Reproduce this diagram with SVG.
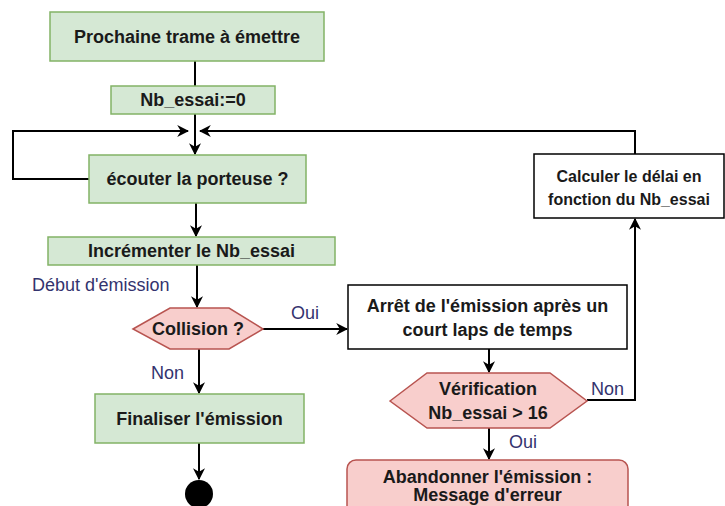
<svg xmlns="http://www.w3.org/2000/svg" width="725" height="506" viewBox="0 0 725 506">
<style>
.g{fill:#d5e8d4;stroke:#82b366;stroke-width:1.5}
.r{fill:#f8cecc;stroke:#b85450;stroke-width:1.5}
.w{fill:#ffffff;stroke:#000000;stroke-width:1.5}
.t{font-family:"Liberation Sans",Arial,sans-serif;font-weight:bold;font-size:18px;fill:#1a1a1a;text-anchor:middle;dominant-baseline:central}
.s{font-size:16px}
.l{font-family:"Liberation Sans",Arial,sans-serif;font-size:18px;fill:#33336e}
.c{fill:none;stroke:#000000;stroke-width:2}
</style>
<defs>
<marker id="b" viewBox="0 0 10 10" refX="9" refY="5" markerWidth="12" markerHeight="12" markerUnits="userSpaceOnUse" orient="auto">
<path d="M0,0 L10,5 L0,10 L3,5 Z" fill="#000"/>
</marker>
</defs>
<g id="connectors">
<path class="c" d="M195,61 V86"/>
<path class="c" d="M195,114 V154" marker-end="url(#b)"/>
<path class="c" d="M89,179 H13 V131 H188" marker-end="url(#b)"/>
<path class="c" d="M635,154 V131 H200" marker-end="url(#b)"/>
<path class="c" d="M196,203 V236" marker-end="url(#b)"/>
<path class="c" d="M197,265 V307" marker-end="url(#b)"/>
<path class="c" d="M263,329 H347" marker-end="url(#b)"/>
<path class="c" d="M199,349 V393" marker-end="url(#b)"/>
<path class="c" d="M199,443 V479" marker-end="url(#b)"/>
<path class="c" d="M489,349 V372" marker-end="url(#b)"/>
<path class="c" d="M587,400 H635 V219" marker-end="url(#b)"/>
<path class="c" d="M489,428 V459" marker-end="url(#b)"/>
</g>
<g id="n1"><rect class="g" x="50" y="12" width="274" height="49"/><text class="t" x="187" y="36.5">Prochaine trame à émettre</text></g>
<g id="n2"><rect class="g" x="111" y="86" width="164" height="28"/><text class="t" x="193" y="100">Nb_essai:=0</text></g>
<g id="n3"><rect class="g" x="89" y="155" width="217" height="48"/><text class="t" x="197.5" y="179">écouter la porteuse ?</text></g>
<g id="n4"><rect class="g" x="48" y="237" width="287" height="28"/><text class="t" x="191.5" y="251">Incrémenter le Nb_essai</text></g>
<g id="n5"><polygon class="r" points="133,329 170,308 229,308 263,329 229,349 170,349"/><text class="t" x="198" y="328.5">Collision ?</text></g>
<g id="n6"><rect class="g" x="95" y="394" width="209" height="49"/><text class="t" x="199.5" y="418.5">Finaliser l'émission</text></g>
<g id="n7"><circle cx="199" cy="494" r="14" fill="#000"/></g>
<g id="n8"><rect class="w" x="348" y="285" width="279" height="64"/><text class="t" x="487.5" y="306">Arrêt de l'émission après un</text><text class="t" x="487.5" y="330">court laps de temps</text></g>
<g id="n9"><polygon class="r" points="390,401 427,373 550,373 587,401 550,428 427,428"/><text class="t" x="488" y="389">Vérification</text><text class="t" x="488" y="413">Nb_essai &gt; 16</text></g>
<g id="n10"><rect class="w" x="534" y="154" width="190" height="64"/><text class="t s" x="629" y="176">Calculer le délai en</text><text class="t s" x="629" y="199">fonction du Nb_essai</text></g>
<g id="n11"><rect class="r" x="347" y="460" width="281" height="60" rx="9"/><text class="t" x="487.5" y="477">Abandonner l'émission :</text><text class="t" x="487.5" y="495">Message d'erreur</text></g>
<g id="labels">
<text class="l" x="32" y="291">Début d'émission</text>
<text class="l" x="291" y="319">Oui</text>
<text class="l" x="151" y="379">Non</text>
<text class="l" x="591" y="395">Non</text>
<text class="l" x="509" y="448">Oui</text>
</g>
</svg>
